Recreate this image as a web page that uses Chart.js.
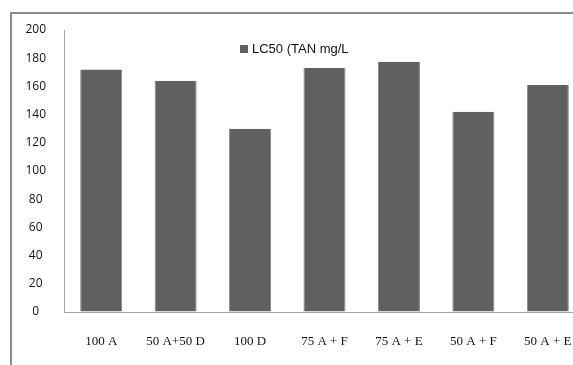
<!DOCTYPE html>
<html>
<head>
<meta charset="utf-8">
<script src="https://cdn.jsdelivr.net/npm/chart.js@4/dist/chart.umd.min.js"></script>
<style>
  html, body { margin: 0; padding: 0; background: #fff; overflow: hidden; }
  body { width: 573px; height: 365px; position: relative; }
  #frame {
    position: absolute; left: 10px; top: 12px; width: 640px; height: 400px;
    border-left: 2px solid #8c8c8c; border-top: 2px solid #8c8c8c;
  }
  #wrap { position: absolute; left: 0; top: 0; width: 600px; height: 365px; }
</style>
</head>
<body>
<div id="frame"></div>
<div id="wrap"><canvas id="c"></canvas></div>
<script>
// Treatment groups and their LC50 values (TAN mg/L)
const categories = ['100 A', '50 A+50 D', '100 D', '75 A + F', '75 A + E', '50 A + F', '50 A + E'];
const lc50Values = [172, 164, 130, 173, 177.5, 142, 161];
const seriesLabel = 'LC50 (TAN mg/L';
const yTicks = [0, 20, 40, 60, 80, 100, 120, 140, 160, 180, 200];

// Legend drawn inside the plot, near the top
const innerLegend = {
  id: 'innerLegend',
  afterDraw(chart) {
    const { ctx, chartArea } = chart;
    const ds = chart.data.datasets[0];
    ctx.save();
    ctx.font = '13px "Liberation Sans", Arial, sans-serif';
    const box = 8;
    const x0 = chartArea.left + 176;
    const y = chartArea.top + 19;
    ctx.fillStyle = ds.backgroundColor;
    ctx.fillRect(x0, y - box / 2, box, box);
    ctx.fillStyle = '#111';
    ctx.textBaseline = 'middle';
    ctx.textAlign = 'left';
    ctx.fillText(ds.label, x0 + box + 4, y);
    ctx.restore();
  }
};

new Chart(document.getElementById('c'), {
  type: 'bar',
  data: {
    labels: categories,
    datasets: [{
      label: seriesLabel,
      data: lc50Values,
      backgroundColor: '#606060',
      borderColor: '#858585',
      borderWidth: { left: 1, right: 1, top: 0, bottom: 0 },
      categoryPercentage: 1,
      barPercentage: 0.565
    }]
  },
  options: {
    responsive: true,
    maintainAspectRatio: false,
    animation: false,
    layout: { padding: { left: 0, right: 15, top: 30, bottom: 0 } },
    plugins: { legend: { display: false }, tooltip: { enabled: false } },
    scales: {
      x: {
        grid: { display: true, drawOnChartArea: false, drawTicks: false },
        border: { display: true, color: '#a6a6a6', width: 1 },
        ticks: {
          padding: 22,
          color: '#111',
          maxRotation: 0,
          autoSkip: false,
          font: { family: '"Liberation Serif", "Times New Roman", serif', size: 13 }
        },
        afterFit(scale) { scale.height = 53; }
      },
      y: {
        min: 0,
        max: 200,
        afterBuildTicks(scale) { scale.ticks = yTicks.map(v => ({ value: v })); },
        grid: { display: true, drawOnChartArea: false, drawTicks: false },
        border: { display: true, color: '#a6a6a6', width: 1 },
        ticks: {
          crossAlign: 'center',
          padding: 18,
          color: '#111',
          font: { family: '"Open Sans", "Noto Sans", sans-serif', size: 12 }
        },
        afterFit(scale) { scale.width = 64; }
      }
    }
  },
  plugins: [innerLegend]
});
</script>
</body>
</html>
